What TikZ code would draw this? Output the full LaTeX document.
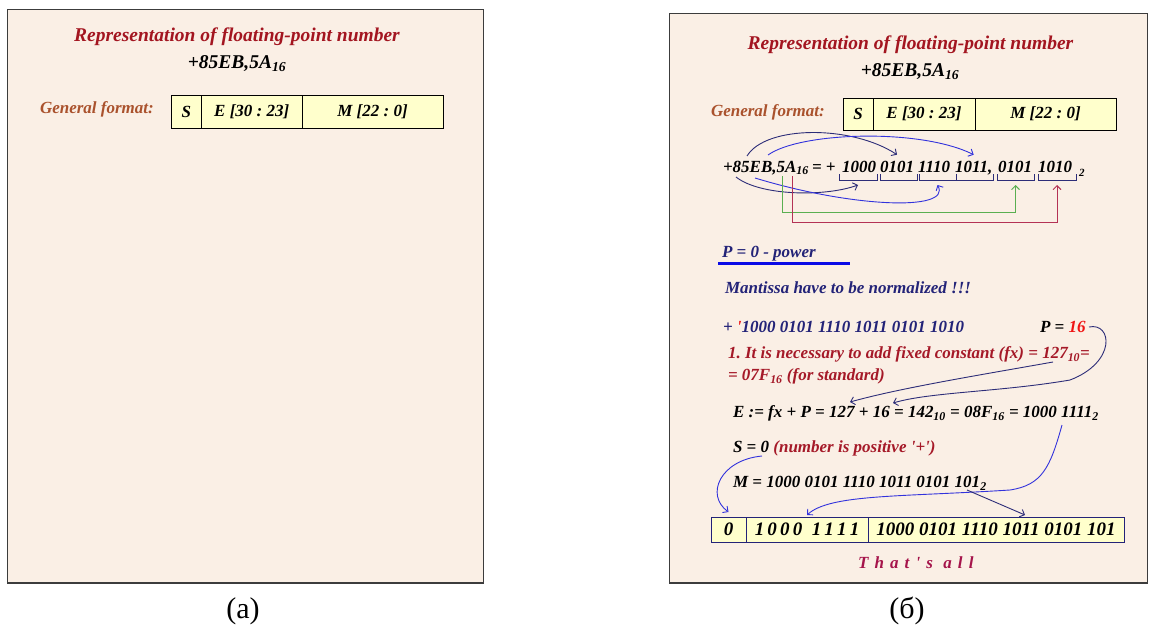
\documentclass[tikz,border=0pt]{standalone}
\usepackage{fontspec}
\setmainfont{Liberation Serif}
\usetikzlibrary{arrows.meta}
\definecolor{panelbg}{RGB}{250,239,229}
\definecolor{frame}{RGB}{60,60,60}
\definecolor{cellfill}{RGB}{255,255,204}
\definecolor{titlered}{RGB}{163,21,32}
\definecolor{brownt}{RGB}{170,82,45}
\definecolor{navy}{RGB}{35,35,120}
\definecolor{brightred}{RGB}{240,20,20}
\definecolor{darkred}{RGB}{165,25,40}
\definecolor{crimson}{RGB}{165,20,75}
\definecolor{arrnavy}{RGB}{45,45,120}
\definecolor{arrblue}{RGB}{50,50,220}
\definecolor{grn}{RGB}{90,175,80}
\definecolor{crm}{RGB}{180,50,85}
\definecolor{ulblue}{RGB}{10,10,230}
\frenchspacing
\begin{document}
\begin{tikzpicture}[x=1pt,y=-1pt,
  every node/.style={inner sep=0pt,outer sep=0pt},
  panel/.style={fill=panelbg,draw=frame,line width=1pt},
  ttl/.style={font=\fontsize{19.5}{23}\selectfont\bfseries\itshape,text=titlered},
  num/.style={font=\fontsize{19.5}{23}\selectfont\bfseries\itshape,text=black},
  gf/.style={font=\fontsize{17}{20}\selectfont\bfseries\itshape,text=brownt},
  txt/.style={font=\fontsize{17}{20}\selectfont\bfseries\itshape},
  cell/.style={draw=black,line width=0.8pt,fill=cellfill,font=\fontsize{17}{20}\selectfont\bfseries\itshape,anchor=north west},
  bcell/.style={cell,font=\fontsize{19}{22}\selectfont\bfseries\itshape,draw=navy},
  brk/.style={minimum height=6,anchor=north west},
  brkline/.style={draw=arrnavy,line width=0.9pt},
  arr/.style={line width=0.9pt,-{Straight Barb[length=4pt,width=8pt]}},
  lbl/.style={font=\fontsize{30}{34}\selectfont}
]
\useasboundingbox (0,0) rectangle (1150,626);
\fill[white] (0,0) rectangle (1150,626);

% ---------- panel (a)
\path[panel] (7,10) rectangle (483,583);
\draw[frame,line width=2.5pt] (7,583) -- (483,583);
\node[ttl,anchor=base] (tA) at (237,41.5) {Representation of floating-point number};
\node[num,anchor=base] (hA) at (237,68.5) {+85EB,5A\textsubscript{16}};
\node[gf,anchor=base west] (gA) at (40,113) {General format:};
\node[cell,minimum width=30.5,minimum height=33] (sA) at (171,95) {S};
\node[cell,minimum width=100.5,minimum height=33] (eA) at (sA.north east) {E [30 : 23]};
\node[cell,minimum width=141,minimum height=33] (mA) at (eA.north east) {M [22 : 0]};

% ---------- panel (b)
\path[panel] (669,14) rectangle (1147,583);
\draw[frame,line width=2.5pt] (669,583) -- (1147,583);
\node[ttl,anchor=base] (tB) at (910.5,49.5) {Representation of floating-point number};
\node[num,anchor=base] (hB) at (910,76.5) {+85EB,5A\textsubscript{16}};
\node[gf,anchor=base west] (gB) at (711,116) {General format:};
\node[cell,minimum width=30,minimum height=32] (sB) at (843,98) {S};
\node[cell,minimum width=102,minimum height=32] (eB) at (sB.north east) {E [30 : 23]};
\node[cell,minimum width=141,minimum height=32] (mB) at (eB.north east) {M [22 : 0]};

% line 1
\node[txt,anchor=base west] (n85) at (723,172) {+85EB,5A\textsubscript{16}};
\node[txt,anchor=base west] (eqp) at (812,172) {= +};
\node[txt,anchor=base west] (g1) at (842,172) {1000};
\node[txt,anchor=base west] (g2) at (880,172) {0101};
\node[txt,anchor=base west] (g3) at (918,172) {1110};
\node[txt,anchor=base west] (g4) at (955,172) {1011,};
\node[txt,anchor=base west] (g5) at (998,172) {0101};
\node[txt,anchor=base west] (g6) at (1038,172) {1010};
\node[anchor=base west,font=\fontsize{11}{12}\selectfont\bfseries\itshape] (g7) at (1079,176) {2};

\node[brk,minimum width=38] (k1) at (839,174) {};
\node[brk,minimum width=37] (k2) at (880,174) {};
\node[brk,minimum width=37] (k3) at (919,174) {};
\node[brk,minimum width=37] (k4) at (956,174) {};
\node[brk,minimum width=37] (k5) at (997,174) {};
\node[brk,minimum width=38] (k6) at (1038,174) {};
\foreach \k in {1,...,6}
  \draw[brkline] (k\k.north west) |- (k\k.south east) -- (k\k.north east);

\coordinate (h5) at (747,156);
\coordinate (h8) at (736,177);
\coordinate (hE) at (768,155);
\coordinate (hBb) at (755,178);
\coordinate (hG) at (782,176);
\coordinate (hR) at (792,176);
\draw[arr,arrnavy] (h5) .. controls (766,125) and (852,125) .. ([yshift=6pt]g2.north);
\draw[arr,arrblue] (hE) .. controls (800,132) and (920,128) .. ([yshift=6pt]g4.north);
\draw[arr,arrnavy] (h8) .. controls (760,196) and (825,197) .. ([yshift=-5pt]k1.south);
\draw[arr,arrblue] (hBb) .. controls (850,207) and (952,212) .. ([yshift=-5pt]k3.south);
\draw[arr,grn] (hG) -- ++(0,36) -| ([yshift=-5pt]k5.south);
\draw[arr,crm] (hR) -- ++(0,46) -| ([yshift=-5pt]k6.south);

% power
\node[txt,text=navy,anchor=base west] (pw) at (722,257) {P = 0 - power};
\draw[ulblue,line width=3pt] ([xshift=-4pt,yshift=-3pt]pw.south west) -- ++(132,0);
\node[txt,text=navy,anchor=base west] (mn) at (725,293.5) {Mantissa have to be normalized !!!};
\node[txt,text=navy,anchor=base west] (bits) at (723,332.5) {+ \textcolor{brightred}{\textquotesingle}1000 0101 1110 1011 0101 1010};
\node[txt,anchor=base west] (p16n) at (1040,332.5) {P = \textcolor{brightred}{16}};
\node[txt,text=darkred,anchor=base west] (fx1) at (728,358.5) {1. It is necessary to add fixed constant (fx) = 127\textsubscript{10}=};
\node[txt,text=darkred,anchor=base west] (fx2) at (728,380.5) {= 07F\textsubscript{16} (for standard)};
\node[txt,anchor=base west] (eln) at (733,417.5) {E := fx + P = 127 + 16 = 142\textsubscript{10} = 08F\textsubscript{16} = 1000 1111\textsubscript{2}};
\node[txt,anchor=base west] (sln) at (733,452.5) {S = 0 \textcolor{darkred}{(number is positive \textquotesingle+\textquotesingle)}};
\node[txt,anchor=base west] (mln) at (733,487.5) {M = 1000 0101 1110 1011 0101 101\textsubscript{2}};

% bottom table
\node[bcell,minimum width=35,minimum height=25] (bs) at (711,517) {0};
\node[bcell,minimum width=122,minimum height=25] (be) at (bs.north east) {1\,0\,0\,0\ \ 1\,1\,1\,1};
\node[bcell,minimum width=256,minimum height=25] (bm) at (be.north east) {1000 0101 1110 1011 0101 101};

\coordinate (p16) at (1089,327);
\coordinate (c127) at (1053,362);
\coordinate (e127) at (850,402);
\coordinate (e16) at (893,403);
\coordinate (e1111) at (1062,425);
\coordinate (s0) at (762,456);
\coordinate (m101) at (967,490);
\draw[arr,arrnavy] (p16) .. controls (1112,322) and (1117,362) .. (1070,380) .. controls (1000,392) and (930,392) .. (e16);
\draw[arr,arrnavy] (c127) .. controls (980,375) and (900,388) .. (e127);
\draw[arr,arrblue] (e1111) .. controls (1050,468) and (1042,485) .. (1010,490) .. controls (900,497) and (830,494) .. ([yshift=2pt]be.north);
\draw[arr,arrblue] (s0) .. controls (720,460) and (705,495) .. ([yshift=5pt]bs.north);
\draw[arr,arrnavy] (m101) -- ([xshift=29pt,yshift=2pt]bm.north);

\node[txt,text=crimson,anchor=base west,font=\fontsize{17}{20}\selectfont\bfseries\itshape\addfontfeature{LetterSpace=36,Ligatures=TeXOff}] (all) at (858,568.5) {That's\ all};

% labels
\node[lbl,anchor=base] (la) at (243,618) {(a)};
\node[lbl,anchor=base] (lb) at (907,618) {(б)};
\end{tikzpicture}
\end{document}
